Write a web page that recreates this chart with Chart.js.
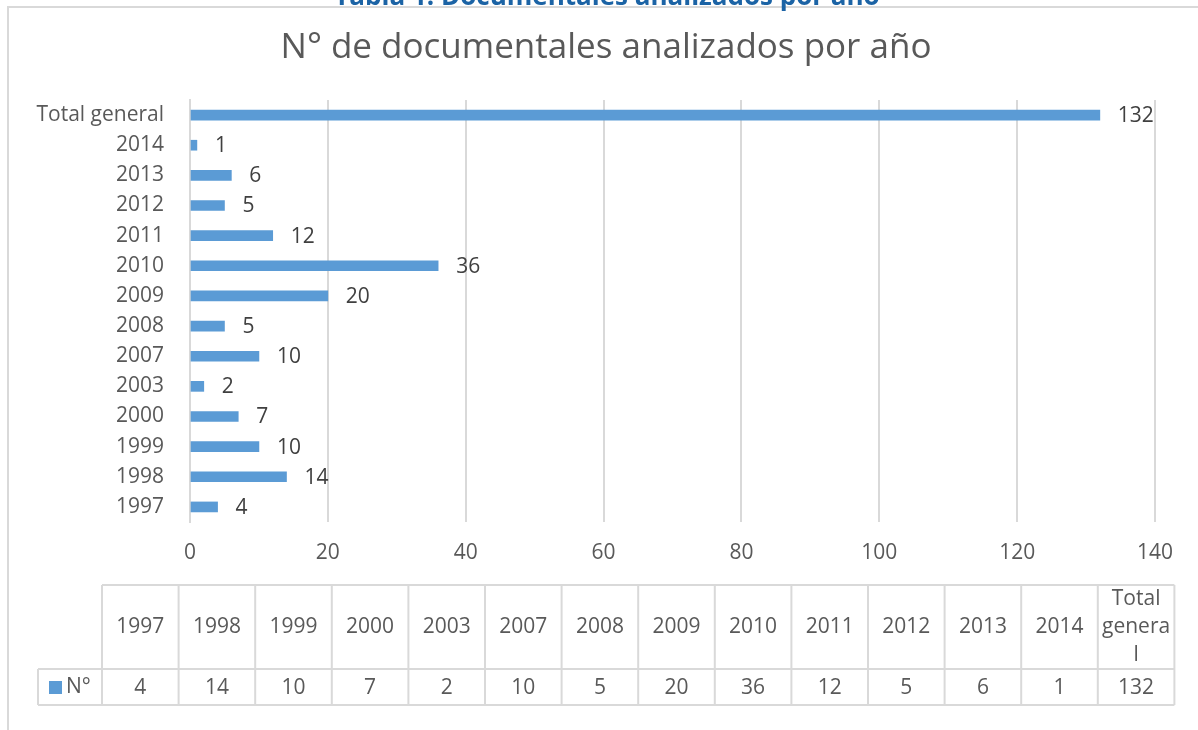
<!DOCTYPE html>
<html>
<head>
<meta charset="utf-8">
<script src="https://cdn.jsdelivr.net/npm/chart.js@4"></script>
<style>
  html, body { margin: 0; padding: 0; background: #fff; }
  #wrap { width: 1198px; height: 730px; position: relative; }
</style>
</head>
<body>
<div id="wrap"><canvas id="chartBar"></canvas></div>
<script>
const years = ["1997", "1998", "1999", "2000", "2003", "2007", "2008", "2009", "2010", "2011", "2012", "2013", "2014", "Total general"];
const counts = [4, 14, 10, 7, 2, 10, 5, 20, 36, 12, 5, 6, 1, 132];
const seriesName = "N°";
const xTicks = [0, 20, 40, 60, 80, 100, 120, 140];

const barColor = "#5B9BD5";
const textColor = "#595959";
const lineColor = "#D9D9D9";
const fontFamily = "'Open Sans', sans-serif";

// frame + cut heading at the top
const framePlugin = {
  id: "frame",
  afterLayout(chart) {
    // centre the chart title a bit right of the plot centre, like the original
    if (chart.titleBlock) {
      chart.titleBlock.left = 57;
      chart.titleBlock.right = 1155;
    }
  },
  beforeDraw(chart) {
    const ctx = chart.ctx;
    ctx.save();
    ctx.fillStyle = "#fff";
    ctx.fillRect(0, 0, chart.width, chart.height);
    ctx.strokeStyle = lineColor;
    ctx.lineWidth = 2;
    ctx.strokeRect(8, 7, 1400, 900);
    ctx.fillStyle = "#1B63A5";
    ctx.font = "bold 26px 'Open Sans', sans-serif";
    ctx.textAlign = "center";
    ctx.textBaseline = "alphabetic";
    ctx.fillText("Tabla 1. Documentales analizados por año", 607, 5);
    ctx.restore();
  },
};

// value labels at the bar ends
const barLabels = {
  id: "barLabels",
  afterDatasetsDraw(chart) {
    const ctx = chart.ctx;
    const meta = chart.getDatasetMeta(0);
    ctx.save();
    ctx.fillStyle = "#404040";
    ctx.font = "21px " + fontFamily;
    ctx.textAlign = "left";
    ctx.textBaseline = "middle";
    meta.data.forEach((bar, i) => {
      ctx.fillText(String(counts[i]), bar.x + 18, bar.y + 1);
    });
    ctx.restore();
  },
};

function wrapText(ctx, text, maxW) {
  const lines = [];
  text.split(" ").forEach((word) => {
    let cur = "";
    for (const ch of word) {
      if (ctx.measureText(cur + ch).width > maxW && cur) {
        lines.push(cur);
        cur = ch;
      } else {
        cur += ch;
      }
    }
    lines.push(cur);
  });
  return lines;
}

// data table under the axis
const dataTable = {
  id: "dataTable",
  afterDraw(chart) {
    const ctx = chart.ctx;
    const left = 102, colW = 76.6;
    const top = 585, mid = 669, bottom = 705, legLeft = 38;
    const right = left + colW * years.length;
    ctx.save();
    ctx.strokeStyle = lineColor;
    ctx.lineWidth = 2;
    ctx.beginPath();
    ctx.moveTo(left, top); ctx.lineTo(right, top);
    ctx.moveTo(legLeft, mid); ctx.lineTo(right, mid);
    ctx.moveTo(legLeft, bottom); ctx.lineTo(right, bottom);
    ctx.moveTo(legLeft, mid); ctx.lineTo(legLeft, bottom);
    for (let i = 0; i <= years.length; i++) {
      const x = left + colW * i;
      ctx.moveTo(x, top); ctx.lineTo(x, bottom);
    }
    ctx.stroke();

    ctx.fillStyle = textColor;
    ctx.font = "21px " + fontFamily;
    ctx.textAlign = "center";
    ctx.textBaseline = "middle";
    years.forEach((y, i) => {
      const cx = left + colW * i + colW / 2;
      const lines = wrapText(ctx, y, colW - 4);
      const lh = 28;
      const y0 = (top + mid) / 2 - (lines.length - 1) * lh / 2;
      lines.forEach((ln, k) => ctx.fillText(ln, cx, y0 + k * lh));
      ctx.fillText(String(counts[i]), cx, (mid + bottom) / 2 + 1);
    });

    ctx.fillStyle = barColor;
    ctx.fillRect(49, 681, 13, 13);
    ctx.fillStyle = textColor;
    ctx.textAlign = "left";
    ctx.fillText(seriesName, 66, 687);
    ctx.restore();
  },
};

Chart.defaults.font.family = fontFamily;
Chart.defaults.color = textColor;

const chartBar = new Chart("chartBar", {
  type: "bar",
  data: {
    labels: years,
    datasets: [
      {
        label: seriesName,
        data: counts,
        backgroundColor: barColor,
        borderWidth: 0,
        barThickness: 10,
      },
    ],
  },
  options: {
    indexAxis: "y",
    responsive: true,
    maintainAspectRatio: false,
    animation: false,
    layout: {
      padding: { left: 0, right: 43, top: 0, bottom: 0 },
    },
    plugins: {
      legend: { display: false },
      tooltip: { enabled: false },
      title: {
        display: true,
        text: "N° de documentales analizados por año",
        color: textColor,
        font: { size: 35, weight: "normal" },
        padding: { top: 27, bottom: 31 },
      },
    },
    scales: {
      x: {
        min: 0,
        max: 140,
        afterBuildTicks(scale) {
          scale.ticks = xTicks.map((v) => ({ value: v }));
        },
        afterFit(scale) {
          scale.height = 208;
        },
        grid: { color: lineColor, lineWidth: 2, drawTicks: false },
        border: { display: false },
        ticks: { color: textColor, font: { size: 21 }, padding: 18 },
      },
      y: {
        reverse: true,
        afterFit(scale) {
          scale.width = 190;
        },
        grid: { display: false, drawTicks: false },
        border: { display: true, color: lineColor, width: 2 },
        ticks: { color: textColor, font: { size: 21 }, padding: 26, autoSkip: false },
      },
    },
  },
  plugins: [framePlugin, barLabels, dataTable],
});
</script>
</body>
</html>
